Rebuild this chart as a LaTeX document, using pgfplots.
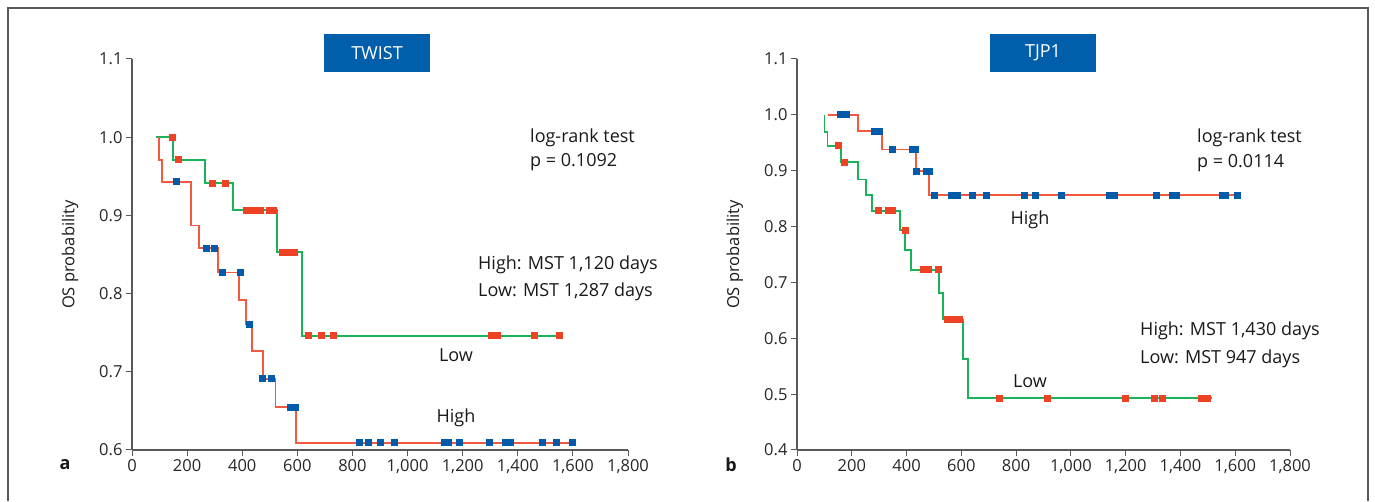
\documentclass[border=0pt]{standalone}
\usepackage{fontspec}
\setmainfont{Open Sans}
\usepackage{pgfplots}
\pgfplotsset{compat=1.18}

\definecolor{kmred}{HTML}{F15A3E}
\definecolor{kmgreen}{HTML}{1BB35A}
\definecolor{mred}{HTML}{EF4123}
\definecolor{mblue}{HTML}{005BAA}
\definecolor{boxblue}{HTML}{005EAA}
\definecolor{axgray}{HTML}{595959}
\newcommand\f{\fontsize{16.5}{19}\selectfont}
\newcommand\g{\fontsize{18}{21}\selectfont}

\pgfplotsset{
  km/.style={
    scale only axis, height=391pt,
    axis lines=left, axis line style={-, axgray, line width=1.2pt},
    tick align=outside, major tick length=6pt,
    tick style={axgray, line width=1pt},
    xmin=0, xmax=1800, xtick={0,200,...,1800},
    ticklabel style={font=\f, text=black!85},
    /pgf/number format/assume math mode=true,
    y tick label style={/pgf/number format/.cd, fixed, fixed zerofill, precision=1, /tikz/.cd},
    ylabel={OS probability},
    clip=false,
  },
  curve/.style={const plot, line width=1.8pt, no marks},
  cred/.style={only marks, color=mred, mark=square*, mark size=3pt, mark options={fill=mred, draw=mred, line width=0pt}},
  cblue/.style={only marks, color=mblue, mark=square*, mark size=3pt, mark options={fill=mblue, draw=mblue, line width=0pt}},
}

\begin{document}
\begin{tikzpicture}
\path (0pt,0pt) rectangle (1375pt,501pt);
\draw[axgray, line width=2pt] (8pt,0pt) -- (8pt,493pt) -- (1368pt,493pt) -- (1368pt,0pt);

% panel a: TWIST
\begin{axis}[km, at={(132pt,51pt)}, anchor=south west, width=496pt,
  ymin=0.6, ymax=1.1, ytick={0.6,0.7,0.8,0.9,1.0,1.1},
  every axis y label/.style={at={(axis description cs:-0.125,0.5)}, rotate=90, anchor=center, font=\f, text=black!90}]
\addplot[curve, kmgreen] coordinates {(87,1.0) (148,0.971) (265,0.941) (366,0.9065) (526,0.853) (617,0.746) (1563,0.746)};
\addplot[curve, kmred] coordinates {(99,1.0) (99,0.971) (108,0.943) (213,0.887) (243,0.858) (311,0.827) (387,0.792) (414,0.761) (435,0.7266) (474,0.691) (521,0.6546) (596,0.609) (1600,0.609)};
\addplot[cred] coordinates {(148,1.0) (169,0.971) (293,0.941) (341,0.941)
  (415,0.9065) (440,0.9065) (465,0.9065) (500,0.9065) (515,0.9065)
  (545,0.853) (570,0.853) (590,0.853)
  (639,0.746) (688,0.746) (733,0.746) (1305,0.746) (1325,0.746) (1462,0.746) (1553,0.746)};
\addplot[cblue] coordinates {(160,0.943) (269,0.858) (298,0.858) (327,0.827) (392,0.827)
  (425,0.761) (475,0.691) (508,0.691) (575,0.6546) (592,0.6546)
  (827,0.609) (860,0.609) (903,0.609) (951,0.609) (1135,0.609) (1150,0.609) (1190,0.609)
  (1299,0.609) (1355,0.609) (1375,0.609) (1488,0.609) (1542,0.609) (1597,0.609)};
\end{axis}

% panel b: TJP1
\begin{axis}[km, at={(797pt,51pt)}, anchor=south west, width=493pt,
  ymin=0.4, ymax=1.1, ytick={0.4,0.5,0.6,0.7,0.8,0.9,1.0,1.1},
  every axis y label/.style={at={(axis description cs:-0.126,0.5)}, rotate=90, anchor=center, font=\f, text=black!90}]
\addplot[curve, kmred] coordinates {(112,1.0) (222,0.9707) (310,0.938) (433,0.899) (482,0.856) (1617,0.856)};
\addplot[curve, kmgreen] coordinates {(100,1.0) (100,0.969) (111,0.9446) (160,0.915) (222,0.8844) (252,0.856) (273,0.8284) (376,0.7932) (393,0.7587) (415,0.7223) (518,0.681) (534,0.6336) (605,0.563) (625,0.4924) (1514,0.4924)};
\addplot[cblue] coordinates {(160,1.0) (180,1.0) (282,0.9707) (300,0.9707) (349,0.938) (422,0.938) (433,0.938)
  (437,0.899) (473,0.899) (482,0.899)
  (501,0.856) (565,0.856) (585,0.856) (641,0.856) (693,0.856) (832,0.856) (870,0.856) (964,0.856)
  (1140,0.856) (1158,0.856) (1313,0.856) (1370,0.856) (1385,0.856) (1553,0.856) (1565,0.856) (1609,0.856)};
\addplot[cred] coordinates {(152,0.9446) (175,0.915) (298,0.8284) (335,0.8284) (348,0.8284) (397,0.7932)
  (462,0.7223) (480,0.7223) (517,0.7223) (551,0.6336) (575,0.6336) (595,0.6336)
  (741,0.4924) (916,0.4924) (1201,0.4924) (1307,0.4924) (1335,0.4924) (1475,0.4924) (1500,0.4924)};
\end{axis}

% titles
\node[fill=boxblue, text=white, font=\g, minimum width=106pt, minimum height=38pt, inner sep=0pt] at (377pt,448pt) {TWIST};
\node[fill=boxblue, text=white, font=\g, minimum width=106pt, minimum height=38pt, inner sep=0pt] at (1043pt,448pt) {TJP1};

% annotations
\begin{scope}[every node/.style={font=\g, text=black!90, inner sep=0pt}]
\node[anchor=west] at (530pt,363pt) {log-rank test};
\node[anchor=west] at (530pt,339pt) {p = 0.1092};
\node[anchor=west] at (478pt,236pt) {High: MST 1,120 days};
\node[anchor=west] at (478pt,209pt) {Low: MST 1,287 days};
\node at (456pt,146pt) {Low};
\node at (456pt,83pt) {High};
\node[font=\g\bfseries] at (65pt,36pt) {a};
\node[anchor=west] at (1197pt,363pt) {log-rank test};
\node[anchor=west] at (1197pt,338pt) {p = 0.0114};
\node at (1030pt,281pt) {High};
\node[anchor=west] at (1140pt,170pt) {High: MST 1,430 days};
\node[anchor=west] at (1140pt,142pt) {Low: MST 947 days};
\node at (1030pt,120pt) {Low};
\node[font=\g\bfseries] at (731pt,36pt) {b};
\end{scope}
\end{tikzpicture}
\end{document}
